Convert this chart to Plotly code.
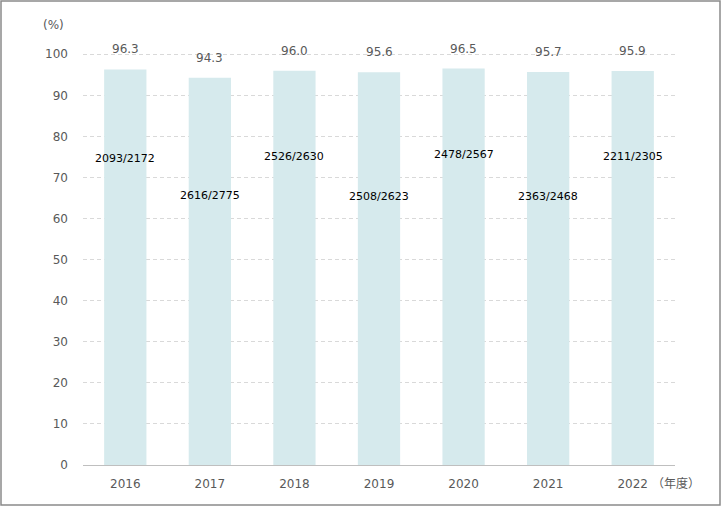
import plotly.graph_objects as go

years = ["2016", "2017", "2018", "2019", "2020", "2021", "2022"]
rates = [96.3, 94.3, 96.0, 95.6, 96.5, 95.7, 95.9]
ratios = ["2093/2172", "2616/2775", "2526/2630", "2508/2623", "2478/2567", "2363/2468", "2211/2305"]
ratio_y = [74.5, 65.5, 75.0, 65.3, 75.6, 65.3, 75.0]
y_ticks = [0, 10, 20, 30, 40, 50, 60, 70, 80, 90, 100]

FONT = "DejaVu Sans"

fig = go.Figure()
fig.add_trace(go.Bar(
    x=years, y=rates,
    marker=dict(color="#d6eaed", line=dict(width=0)),
    hoverinfo="skip",
))

annotations = []
for i, (v, lab, yy) in enumerate(zip(rates, ratios, ratio_y)):
    annotations.append(dict(x=i, y=v, xref="x", yref="y", text=f"{v:.1f}", showarrow=False,
                            yanchor="bottom", yshift=11,
                            font=dict(family=FONT, size=12, color="#595959")))
    annotations.append(dict(x=i, y=yy, xref="x", yref="y", text=lab, showarrow=False,
                            font=dict(family=FONT, size=11, color="#000000")))
annotations.append(dict(x=0, y=1, xref="paper", yref="paper", xshift=-42, yshift=28,
                        text="(%)", showarrow=False, yanchor="middle",
                        font=dict(family=FONT, size=12, color="#595959")))
annotations.append(dict(x=6, y=0, xref="x", yref="paper", xshift=17, yshift=-17,
                        text="（年度）", showarrow=False, xanchor="left", yanchor="middle",
                        font=dict(family="Noto Sans CJK JP", size=12, color="#595959")))

fig.update_layout(
    width=721, height=506,
    margin=dict(l=83, r=46, t=53, b=41),
    paper_bgcolor="white", plot_bgcolor="white",
    bargap=0.5,
    showlegend=False,
    annotations=annotations,
    shapes=[dict(type="rect", xref="paper", yref="paper", x0=-82/592, x1=1+45/592,
                 y0=-40/412, y1=1+52/412, line=dict(color="#8a8a8a", width=1.5))],
    xaxis=dict(type="category", range=[-0.5, 6.5], showgrid=False, ticks="", showline=True,
               linecolor="#bfbfbf", linewidth=1, ticklabelstandoff=8,
               tickfont=dict(family=FONT, size=12, color="#595959")),
    yaxis=dict(range=[0, 100.3], tickvals=y_ticks, showgrid=True, gridcolor="#d9d9d9",
               griddash="4px,3px", gridwidth=1, zeroline=False, showline=False, ticks="",
               ticklabelstandoff=14,
               tickfont=dict(family=FONT, size=12, color="#595959")),
)

fig.write_html("out.html", config={"displayModeBar": False},
               post_script="document.body.style.margin='0';")
